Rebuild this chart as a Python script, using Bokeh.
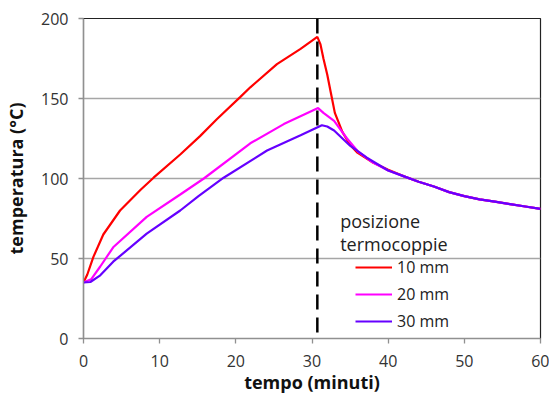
from bokeh.plotting import figure
from bokeh.models import Range1d, Span, Legend, LegendItem, Label, FixedTicker
from bokeh.embed import file_html
from bokeh.resources import INLINE

# --- data ---
t_10 = [0, 0.5, 1.3, 2.6, 4.8, 7.5, 9.2, 12.7, 15.3, 17.5, 20.6, 21.9, 25.4, 28.5, 30.7,
        31.1, 31.5, 32, 32.5, 33, 34, 35, 36, 38, 40, 42, 44, 46, 48, 50, 52, 54, 56, 58, 60]
y_10 = [35, 40, 51, 65, 80, 93, 100.5, 115, 126.5, 137, 151, 157, 171.5, 181, 188.5,
        184, 175, 165, 153, 141, 129, 121, 116, 110, 105.5, 101.5, 98, 95, 91.5, 89, 87, 85.5, 84, 82.5, 81]

t_20 = [0, 1, 2.2, 3.9, 8.3, 12.7, 15.8, 21.9, 26.3, 30.8, 31.5, 32.9, 34.6,
        36, 38, 40, 42, 44, 46, 48, 50, 52, 54, 56, 58, 60]
y_20 = [35, 37, 45, 57, 76, 90, 100, 122, 134, 144, 141, 136, 125,
        117, 110, 105, 101.5, 98, 95, 91.5, 89, 87, 85.5, 84, 82.5, 81]

t_30 = [0, 0.9, 2.2, 3.9, 8.3, 12.7, 15.1, 18.4, 24.1, 28.5, 31.3, 32, 32.9, 35,
        37.2, 40, 42, 44, 46, 48, 50, 52, 54, 56, 58, 60]
y_30 = [35, 35.3, 39.5, 48, 65.5, 80, 89, 100.5, 117.5, 127, 133.3, 132.5, 130, 120.5,
        113, 105, 101.5, 98, 95, 91.5, 89, 87, 85.5, 84, 82.5, 81]

series_labels = ["10 mm", "20 mm", "30 mm"]
series_colors = ["#FF0000", "#FF00FF", "#6600FF"]
x_ticks = [0, 10, 20, 30, 40, 50, 60]
y_ticks = [0, 50, 100, 150, 200]
t_switch = 30.7
legend_title = ["posizione", "termocoppie"]

FONT = "Open Sans"

p = figure(width=549, height=400, output_backend="svg", toolbar_location=None,
           x_range=Range1d(0, 60), y_range=Range1d(0, 200),
           min_border_left=83, min_border_right=9, min_border_top=18, min_border_bottom=62)

p.background_fill_color = "white"
p.border_fill_color = "white"
p.outline_line_color = "#222222"
p.outline_line_width = 1.2

p.xgrid.grid_line_color = None
p.ygrid.grid_line_color = "#A6A6A6"
p.ygrid.grid_line_width = 1.3

for ax in (p.xaxis[0], p.yaxis[0]):
    ax.axis_line_color = "#909090"
    ax.axis_line_width = 1.3
    ax.major_tick_line_color = "#909090"
    ax.major_tick_line_width = 1.3
    ax.major_tick_in = 0
    ax.major_tick_out = 5
    ax.minor_tick_line_color = None
    ax.major_label_text_font = FONT
    ax.major_label_text_font_size = "16px"
    ax.major_label_text_color = "#333333"
    ax.axis_label_text_font = FONT
    ax.axis_label_text_font_size = "18px"
    ax.axis_label_text_font_style = "bold"
    ax.axis_label_text_color = "#111111"

p.xaxis.ticker = FixedTicker(ticks=x_ticks)
p.yaxis.ticker = FixedTicker(ticks=y_ticks)
p.xaxis.axis_label = "tempo (minuti)"
p.yaxis.axis_label = "temperatura (°C)"
p.xaxis.major_label_standoff = 11
p.yaxis.major_label_standoff = 10
p.xaxis.axis_label_standoff = 0
p.yaxis.axis_label_standoff = 10

renderers = []
for t, y, c in zip([t_10, t_20, t_30], [y_10, y_20, y_30], series_colors):
    r = p.line(t, y, line_color=c, line_width=2.2)
    renderers.append(r)

p.add_layout(Span(location=t_switch, dimension="height", line_color="black",
                  line_width=2.5, line_dash="15 8"))

legend = Legend(items=[LegendItem(label=l, renderers=[r]) for l, r in zip(series_labels, renderers)],
                location=(272, 6), orientation="vertical",
                background_fill_alpha=0, border_line_color=None,
                padding=0, margin=0, spacing=5, glyph_width=37, glyph_height=20,
                label_height=20, label_standoff=5,
                label_text_font=FONT, label_text_font_size="16px", label_text_color="#222222")
p.add_layout(legend, "center")

for i, txt in enumerate(legend_title):
    p.add_layout(Label(x=33.7, y=73.5 - i * 14.5, text=txt, text_font=FONT,
                       text_font_size="18px", text_color="#222222",
                       text_baseline="middle", text_align="left"))

open("out.html", "w").write(file_html(p, INLINE))
